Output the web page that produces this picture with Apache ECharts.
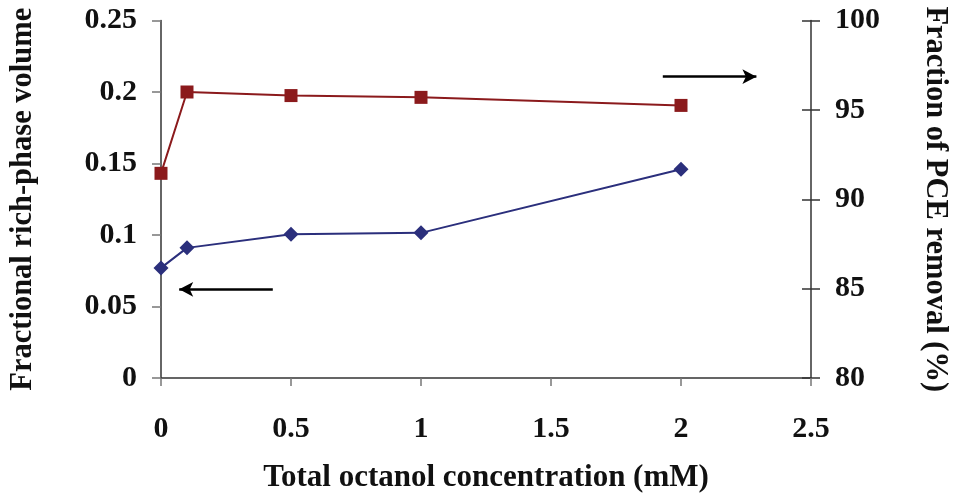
<!DOCTYPE html>
<html><head><meta charset="utf-8">
<script src="https://cdn.jsdelivr.net/npm/echarts@6/dist/echarts.min.js"></script>
<style>html,body{margin:0;padding:0;background:#fff}#c{width:954px;height:496px}</style>
</head><body><div id="c"></div>
<script>
const xValues = [0, 0.1, 0.5, 1, 2];
const richPhaseVolume = [0.077, 0.091, 0.1005, 0.1015, 0.146];
const pceRemoval = [91.45, 96.0, 95.8, 95.7, 95.25];
const xTicks = [0, 0.5, 1, 1.5, 2, 2.5];
const leftTicks = [0, 0.05, 0.1, 0.15, 0.2, 0.25];
const rightTicks = [80, 85, 90, 95, 100];
const leftArrow = [[0.43, 0.062], [0.07, 0.062]];
const rightArrow = [[1.93, 96.86], [2.29, 96.86]];

const font = 'Liberation Serif, Times New Roman, serif';
const lab = {fontFamily: font, fontWeight: 'bold', fontSize: 30, color: '#111'};
const chart = echarts.init(document.getElementById('c'), null, {renderer: 'canvas'});
chart.setOption({
  animation: false,
  backgroundColor: '#fff',
  grid: {left: 161, right: 143, top: 20.5, bottom: 118, containLabel: false, outerBoundsMode: 'none'},
  xAxis: {
    type: 'value', min: 0, max: 2.5, interval: 0.5,
    name: 'Total octanol concentration (mM)', nameLocation: 'middle', nameGap: 84,
    nameTextStyle: Object.assign({}, lab, {fontSize: 31}),
    axisLine: {lineStyle: {color: '#333', width: 1.5}},
    axisTick: {length: 8, lineStyle: {color: '#777', width: 1.5}},
    axisLabel: Object.assign({}, lab, {margin: 36, formatter: v => String(v)}),
    splitLine: {show: false}
  },
  yAxis: [
    {
      type: 'value', min: 0, max: 0.25, interval: 0.05, position: 'left',
      name: 'Fractional rich-phase volume', nameLocation: 'middle', nameGap: 122,
      nameTextStyle: Object.assign({}, lab, {fontSize: 30.5}),
      axisLine: {show: true, lineStyle: {color: '#333', width: 1.5}},
      axisTick: {show: true, length: 9, lineStyle: {color: '#777', width: 1.5}},
      axisLabel: Object.assign({}, lab, {margin: 24, formatter: v => String(v)}),
      splitLine: {show: false}
    },
    {
      type: 'value', min: 80, max: 100, interval: 5, position: 'right',
      name: 'Fraction of PCE removal (%)', nameLocation: 'middle', nameGap: 108, nameRotate: -90,
      nameTextStyle: Object.assign({}, lab, {fontSize: 30.5}),
      axisLine: {show: true, lineStyle: {color: '#333', width: 1.5}},
      axisTick: {show: true, length: 9, lineStyle: {color: '#333', width: 1.5}},
      axisLabel: Object.assign({}, lab, {margin: 24}),
      splitLine: {show: false}
    },
    {
      type: 'value', min: 80, max: 100, interval: 5, position: 'right',
      axisLine: {show: false},
      axisTick: {show: true, inside: true, length: 9, lineStyle: {color: '#333', width: 1.5}},
      axisLabel: {show: false},
      splitLine: {show: false}
    }
  ],
  series: [
    {
      type: 'line', yAxisIndex: 0,
      data: xValues.map((x, i) => [x, richPhaseVolume[i]]),
      symbol: 'diamond', symbolSize: 15,
      itemStyle: {color: '#2b2f7c'},
      lineStyle: {color: '#2b2f7c', width: 2},
      markLine: {
        silent: true, symbol: ['none', 'arrow'], symbolSize: [11, 14],
        lineStyle: {color: '#000', width: 2.5, type: 'solid'},
        label: {show: false},
        data: [[{coord: leftArrow[0]}, {coord: leftArrow[1]}]]
      }
    },
    {
      type: 'line', yAxisIndex: 1,
      data: xValues.map((x, i) => [x, pceRemoval[i]]),
      symbol: 'rect', symbolSize: 13,
      itemStyle: {color: '#8b1a1c'},
      lineStyle: {color: '#8b1a1c', width: 2},
      markLine: {
        silent: true, symbol: ['none', 'arrow'], symbolSize: [11, 14],
        lineStyle: {color: '#000', width: 2.5, type: 'solid'},
        label: {show: false},
        data: [[{coord: rightArrow[0]}, {coord: rightArrow[1]}]]
      }
    }
  ]
});
</script></body></html>
